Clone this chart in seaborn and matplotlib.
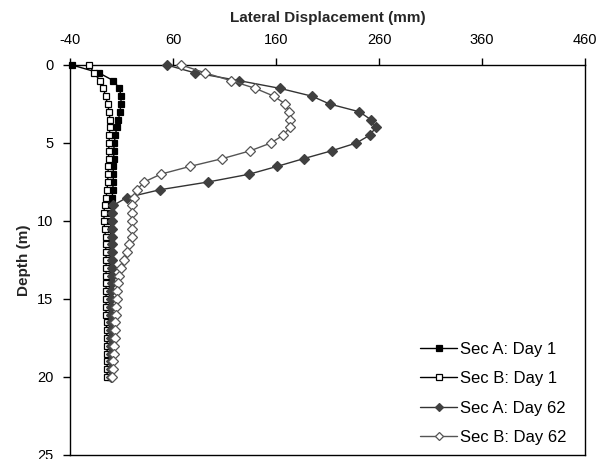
import numpy as np
import pandas as pd
import matplotlib
matplotlib.use("Agg")
import matplotlib.pyplot as plt
import seaborn as sns

depth = [0, 0.5, 1, 1.5, 2, 2.5, 3, 3.5, 4, 4.5, 5, 5.5, 6, 6.5, 7, 7.5, 8, 8.5, 9, 9.5,
         10, 10.5, 11, 11.5, 12, 12.5, 13, 13.5, 14, 14.5, 15, 15.5, 16, 16.5, 17, 17.5,
         18, 18.5, 19, 19.5, 20]

sec_a_day1 = [-38, -12, 2, 8, 9.5, 9.5, 8.5, 7, 5.5, 4, 3, 2.5, 2.5, 2, 2, 2, 1.5, 1, 0.5, 0,
              0, -0.5, -0.5, -1, -1, -1, -1, -1, -1, -1.5, -1.5, -1.5, -1.5, -1.5, -1.5, -1,
              -1, -1, -1, -1, -1]
sec_b_day1 = [-22, -16.5, -11, -7.5, -5.5, -3.5, -2, -1.2, -1.2, -1.8, -2, -2.5, -2.5, -3, -3,
              -3.5, -4, -5, -6.5, -7, -7, -6.5, -5.5, -5.5, -5, -5, -5, -5, -5, -5, -5, -5,
              -5, -4.5, -4.5, -4, -4, -4, -4, -4, -4]
sec_a_day62 = [54, 81, 124, 164, 195, 212, 241, 252, 257, 251, 238, 214, 187, 161, 134, 94, 47,
               15, 2, 1, 1, 1, 1, 1, 0.5, 0.5, 0.5, 0.5, 0.5, 0, 0, 0, 0, 0, 0, 0, 0, 0, 0, 0, 0]
sec_b_day62 = [68, 91, 116, 140, 158, 169, 173, 174, 173.5, 167, 155, 135, 108, 76.5, 48, 32,
               25, 22, 20.5, 20.5, 20.5, 20.5, 20, 17.5, 15, 12, 9.5, 8, 7, 6, 5.5, 5, 4.5, 4,
               4, 3.5, 3, 2.5, 2, 1.5, 1]

series_names = ["Sec A: Day 1", "Sec B: Day 1", "Sec A: Day 62", "Sec B: Day 62"]
x_ticks = [-40, 60, 160, 260, 360, 460]
y_ticks = [0, 5, 10, 15, 20, 25]

sns.set_style("ticks")
plt.rcParams["font.family"] = ["Liberation Sans", "DejaVu Sans"]
plt.rcParams["axes.unicode_minus"] = False

fig = plt.figure(figsize=(6.08, 4.59), dpi=100)
ax = fig.add_axes([70 / 608, 1 - 455 / 459, 515 / 608, 390 / 459])

styles = [
    dict(color="black", marker="s", markersize=5, markerfacecolor="black", markeredgecolor="black"),
    dict(color="black", marker="s", markersize=5, markerfacecolor="white", markeredgecolor="black"),
    dict(color="#333333", marker="D", markersize=5, markerfacecolor="#404040", markeredgecolor="#404040"),
    dict(color="#555555", marker="D", markersize=5, markerfacecolor="white", markeredgecolor="#555555"),
]
values = [sec_a_day1, sec_b_day1, sec_a_day62, sec_b_day62]

for name, vals, st in zip(series_names, values, styles):
    df = pd.DataFrame({"disp": vals, "depth": depth})
    sns.lineplot(data=df, x="disp", y="depth", ax=ax, sort=False, estimator=None,
                 label=name, linewidth=1.0, markeredgewidth=0.9, clip_on=False, zorder=3, **st)

ax.set_xlim(-40, 460)
ax.set_ylim(25, 0)
ax.set_xticks(x_ticks)
ax.set_yticks(y_ticks)
ax.xaxis.tick_top()
ax.xaxis.set_label_position("top")
ax.tick_params(axis="x", which="both", top=True, bottom=False, direction="out", length=5,
               width=1, labelsize=10.5, pad=8, colors="black")
ax.tick_params(axis="y", which="both", left=True, right=False, direction="out", length=5,
               width=1, labelsize=10.5, pad=7, colors="black")
for sp in ax.spines.values():
    sp.set_visible(True)
    sp.set_color("black")
    sp.set_linewidth(1.0)

ax.set_xlabel("Lateral Displacement (mm)", fontsize=11, fontweight="bold", labelpad=8)
ax.set_ylabel("Depth (m)", fontsize=11, fontweight="bold", labelpad=4)

leg = ax.legend(loc="upper left", bbox_to_anchor=(0.664, 0.312), frameon=False, fontsize=12,
                handlelength=2.2, handletextpad=0.2, labelspacing=0.87, borderpad=0,
                markerscale=0.75)
for t in leg.get_texts():
    t.set_color("black")

fig.savefig("out.png", dpi=100)
